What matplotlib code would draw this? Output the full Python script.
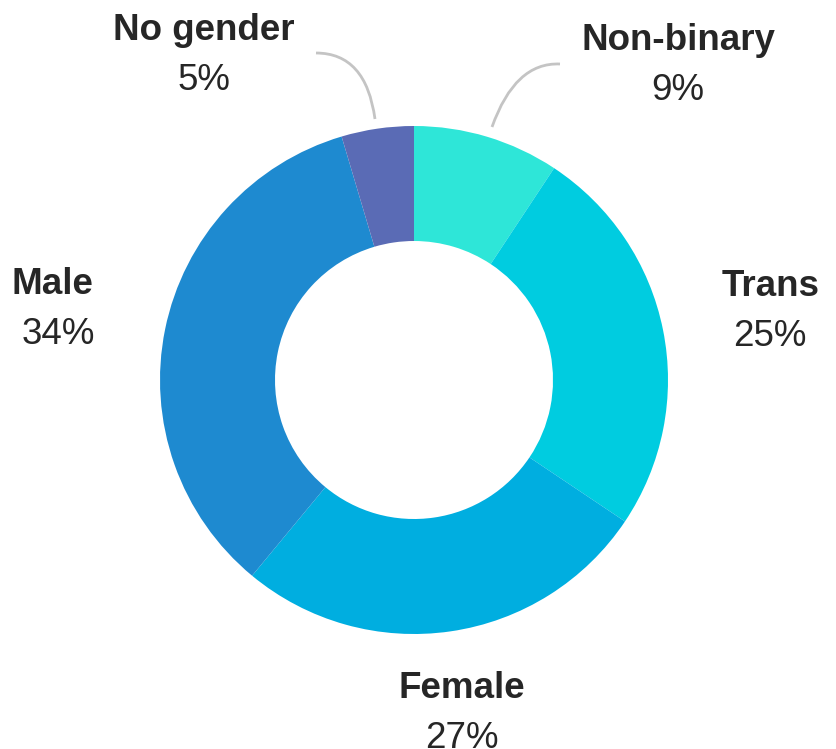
import matplotlib
matplotlib.use("Agg")
import matplotlib.pyplot as plt
from matplotlib.path import Path
from matplotlib.patches import PathPatch

# data, clockwise from 12 o'clock (shares)
labels = ["Non-binary", "Trans", "Female", "Male", "No gender"]
values = [9.3, 25.1, 26.6, 34.4, 4.6]
colors = ["#2ee6d8", "#00cce0", "#00aee0", "#1e8ad0", "#5a6bb5"]

W, H = 836, 749
fig = plt.figure(figsize=(W / 100, H / 100), dpi=100)
ax = fig.add_axes([0, 0, 1, 1])

cx, cy = 414, H - 380
R, r = 254, 139
ax.pie(values, colors=colors, startangle=90, counterclock=False,
       center=(cx, cy), radius=R, frame=True,
       wedgeprops=dict(width=R - r, linewidth=0))
ax.set_xlim(0, W)
ax.set_ylim(0, H)
ax.set_aspect("equal")
ax.axis("off")

# label positions (pixels from top-left): name x, percent x, name y
label_pos = {
    "Non-binary": (678, 678, 40),
    "Trans": (771, 770, 286),
    "Female": (462, 462, 689),
    "Male": (52, 58, 284),
    "No gender": (204, 204, 30),
}
txt = "#262626"
font = "Liberation Sans"
for lab, val in zip(labels, values):
    x, xp, y = label_pos[lab]
    ax.text(x, H - y, lab, ha="center", va="center", fontsize=26.5,
            fontweight="bold", color=txt, family=font)
    ax.text(xp, H - y - 50, f"{round(val)}%", ha="center", va="center",
            fontsize=26.5, color=txt, family=font)

# curved leader lines
def leader(p0, p1, p2):
    pts = [(p[0], H - p[1]) for p in (p0, p1, p2)]
    path = Path(pts, [Path.MOVETO, Path.CURVE3, Path.CURVE3])
    ax.add_patch(PathPatch(path, fill=False, edgecolor="#c4c4c4", lw=2))

leader((316, 53), (366, 53), (375, 119))
leader((560, 64), (515, 62), (492, 127))

fig.savefig("out.png", dpi=100)
